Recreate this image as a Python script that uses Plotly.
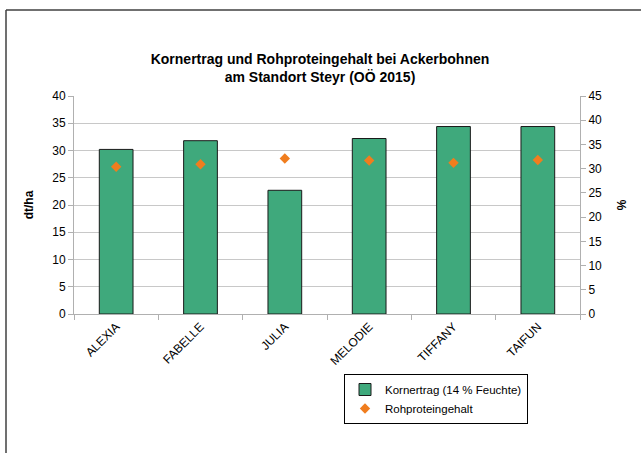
import plotly.graph_objects as go

categories = ["ALEXIA", "FABELLE", "JULIA", "MELODIE", "TIFFANY", "TAIFUN"]
kornertrag = [30.2, 31.8, 22.7, 32.2, 34.4, 34.4]
rohprotein = [30.4, 30.9, 32.1, 31.7, 31.2, 31.8]
left_ticks = [0, 5, 10, 15, 20, 25, 30, 35, 40]
right_ticks = [0, 5, 10, 15, 20, 25, 30, 35, 40, 45]

W, H = 641, 453
SL, SR, ST, SB = 74, 580, 96, 314
L, T, R, B = SL, ST, W - SR, H - SB
pw = W - L - R
ph = H - T - B

def px(x):
    return (x - L) / pw

def py(y):
    return (H - B - y) / ph

fig = go.Figure()
fig.add_trace(go.Bar(
    x=categories, y=kornertrag, name="Kornertrag (14 % Feuchte)",
    marker=dict(color="#3fa97c", line=dict(color="#1a1a1a", width=1)),
    width=0.4, yaxis="y"))
fig.add_trace(go.Scatter(
    x=categories, y=rohprotein, name="Rohproteingehalt", mode="markers",
    marker=dict(symbol="diamond", size=8, color="#f07d1e"),
    yaxis="y2"))

font = dict(family="Liberation Sans, Arial, sans-serif", size=12, color="#000000")
lfont = dict(family="Liberation Sans, Arial, sans-serif", size=11.5, color="#000000")

fig.update_layout(
    width=W, height=H,
    margin=dict(l=L, r=R, t=T, b=B, autoexpand=False),
    paper_bgcolor="white", plot_bgcolor="white",
    font=font,
    showlegend=True,
    title=dict(
        text="<b>Kornertrag und Rohproteingehalt bei Ackerbohnen<br>am Standort Steyr (OÖ 2015)</b>",
        x=320 / W, xanchor="center",
        y=1 - 64 / H, yanchor="middle",
        font=dict(family="Liberation Sans, Arial, sans-serif", size=14, color="#000000")),
    xaxis=dict(
        type="category", tickangle=-45, showgrid=False,
        showline=True, linecolor="#b0b0b0", linewidth=1,
        ticks="outside", tickcolor="#b0b0b0", ticklen=5, tickson="boundaries",
        tickfont=font),
    yaxis=dict(
        range=[0, 40], tickvals=left_ticks, showgrid=True, gridcolor="#c8c8c8", gridwidth=1,
        showline=True, linecolor="#b0b0b0", linewidth=1, zeroline=False,
        ticks="outside", tickcolor="#b0b0b0", ticklen=5, tickfont=font,
        title=dict(text="<b>dt/ha</b>", font=font, standoff=16)),
    yaxis2=dict(
        range=[0, 45], tickvals=right_ticks, overlaying="y", side="right",
        showgrid=False, showline=True, linecolor="#b0b0b0", linewidth=1, zeroline=False,
        ticks="outside", tickcolor="#b0b0b0", ticklen=5, tickfont=font,
        title=dict(text="<b>%</b>", font=font, standoff=16)),
    legend=dict(
        x=px(344), y=py(374), xanchor="left", yanchor="top",
        bordercolor="#000000", borderwidth=1, bgcolor="white",
        font=lfont, tracegroupgap=0, itemwidth=30),
    shapes=[
        dict(type="line", xref="paper", yref="paper", x0=px(6), x1=px(660), y0=py(10), y1=py(10),
             line=dict(color="#404040", width=1.5)),
        dict(type="line", xref="paper", yref="paper", x0=px(6), x1=px(6), y0=py(10), y1=py(470),
             line=dict(color="#404040", width=1.5)),
    ],
)

fig.write_html("out.html", config={"displayModeBar": False},
               post_script="document.body.style.margin='0';document.body.style.overflow='hidden';")
